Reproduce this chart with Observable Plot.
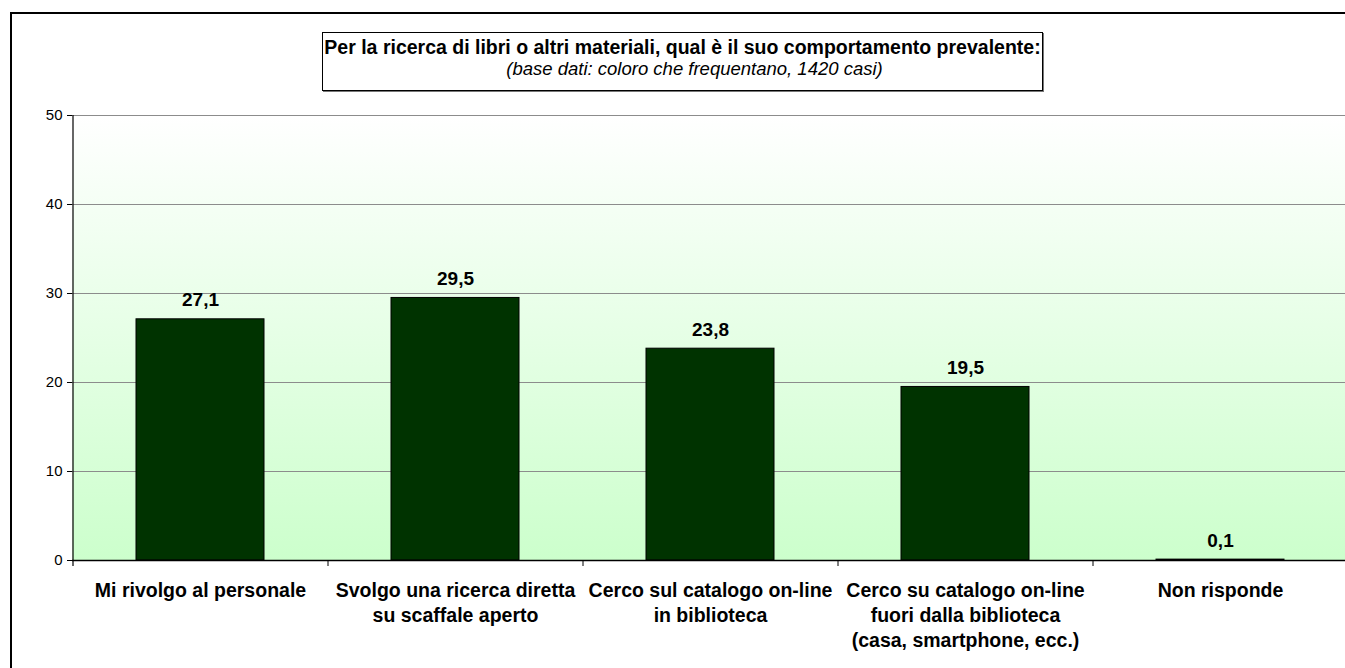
<!DOCTYPE html>
<html>
<head>
<meta charset="utf-8">
<script src="https://cdn.jsdelivr.net/npm/d3@7"></script>
<script src="https://cdn.jsdelivr.net/npm/@observablehq/plot@0.6"></script>
<style>
  html, body { margin: 0; padding: 0; background: #fff; width: 1345px; height: 668px; overflow: hidden; }
  body { position: relative; font-family: "Liberation Sans", Arial, sans-serif; }
  #frame { position: absolute; left: 10px; top: 12px; width: 1400px; height: 700px; border: 2.5px solid #000; box-sizing: border-box; }
  #chart { position: absolute; left: 0; top: 0; }
  #titlebox { position: absolute; left: 322px; top: 32px; width: 721px; height: 59px; border: 1px solid #000; box-shadow: 1px 1px 0 #777; background: #fff; box-sizing: border-box; }
  #title { position: absolute; left: 0; right: 0; top: 4px; text-align: center; font-weight: bold; font-size: 19.5px; line-height: 20px; white-space: nowrap; }
  #subtitle { position: absolute; left: 24px; right: 0; top: 26px; text-align: center; font-style: italic; font-size: 18.5px; line-height: 20px; white-space: nowrap; }
</style>
</head>
<body>
<div id="frame"></div>
<div id="chart"></div>
<div id="titlebox"><div id="title"></div><div id="subtitle"></div></div>
<script>
const titleText = "Per la ricerca di libri o altri materiali, qual è il suo comportamento prevalente:";
const subtitleText = "(base dati: coloro che frequentano, 1420 casi)";
const categories = [
  "Mi rivolgo al personale",
  "Svolgo una ricerca diretta\nsu scaffale aperto",
  "Cerco sul catalogo on-line\nin biblioteca",
  "Cerco su catalogo on-line\nfuori dalla biblioteca\n(casa, smartphone, ecc.)",
  "Non risponde"
];
const values = [27.1, 29.5, 23.8, 19.5, 0.1];
const yTicks = [0, 10, 20, 30, 40, 50];

document.getElementById("title").textContent = titleText;
document.getElementById("subtitle").textContent = subtitleText;

const data = categories.map((c, i) => ({category: c, value: values[i]}));
const fmt = v => d3.format(".1f")(v).replace(".", ",");

const W = 1345, H = 668;
const mL = 72, mT = 115, mB = 108, mR = 0;
const xRange = [mL, W + 2];
const step = (xRange[1] - xRange[0]) / categories.length;
const pxPerUnit = (H - mT - mB) / d3.max(yTicks);
const tickLen = 6 / pxPerUnit;
const font = "'Liberation Sans', Arial, sans-serif";

const plot = Plot.plot({
  width: W, height: H,
  marginLeft: mL, marginRight: mR, marginTop: mT, marginBottom: mB,
  style: {fontFamily: font, color: "#000", background: "transparent", overflow: "visible"},
  x: {domain: categories, range: xRange, paddingInner: 0.5, paddingOuter: 0.25, label: null},
  y: {domain: [0, d3.max(yTicks)], label: null},
  marks: [
    Plot.frame({fill: "url(#bgGrad)", stroke: "none"}),
    Plot.gridY(yTicks.slice(1), {stroke: "#8c8c8c", strokeOpacity: 1, strokeWidth: 1}),
    Plot.barY(data, {x: "category", y: "value", fill: "#003300", stroke: "#000", strokeWidth: 1}),
    Plot.ruleY([0], {stroke: "#000", strokeWidth: 1.5}),
    Plot.ruleX([categories[0]], {dx: -step / 2, y1: -tickLen, y2: d3.max(yTicks), stroke: "#000", strokeWidth: 1.2}),
    Plot.ruleX(categories.slice(1), {dx: -step / 2, y1: -tickLen, y2: 0, stroke: "#000", strokeWidth: 1}),
    Plot.axisY(yTicks, {tickSize: 5, tickPadding: 5, fontSize: 15, label: null}),
    Plot.axisX({tickSize: 0, tickPadding: 19, fontSize: 19.5, fontWeight: "bold", lineHeight: 1.28, label: null}),
    Plot.text(data, {x: "category", y: "value", text: d => fmt(d.value), dy: -19, fontSize: 19, fontWeight: "bold", fill: "#000"})
  ]
});

const svg = d3.select(plot);
const defs = svg.insert("defs", ":first-child");
const grad = defs.append("linearGradient").attr("id", "bgGrad").attr("x1", 0).attr("y1", 0).attr("x2", 0).attr("y2", 1);
grad.append("stop").attr("offset", "0%").attr("stop-color", "#ffffff");
grad.append("stop").attr("offset", "100%").attr("stop-color", "#ccffcc");

document.getElementById("chart").appendChild(plot);
</script>
</body>
</html>
